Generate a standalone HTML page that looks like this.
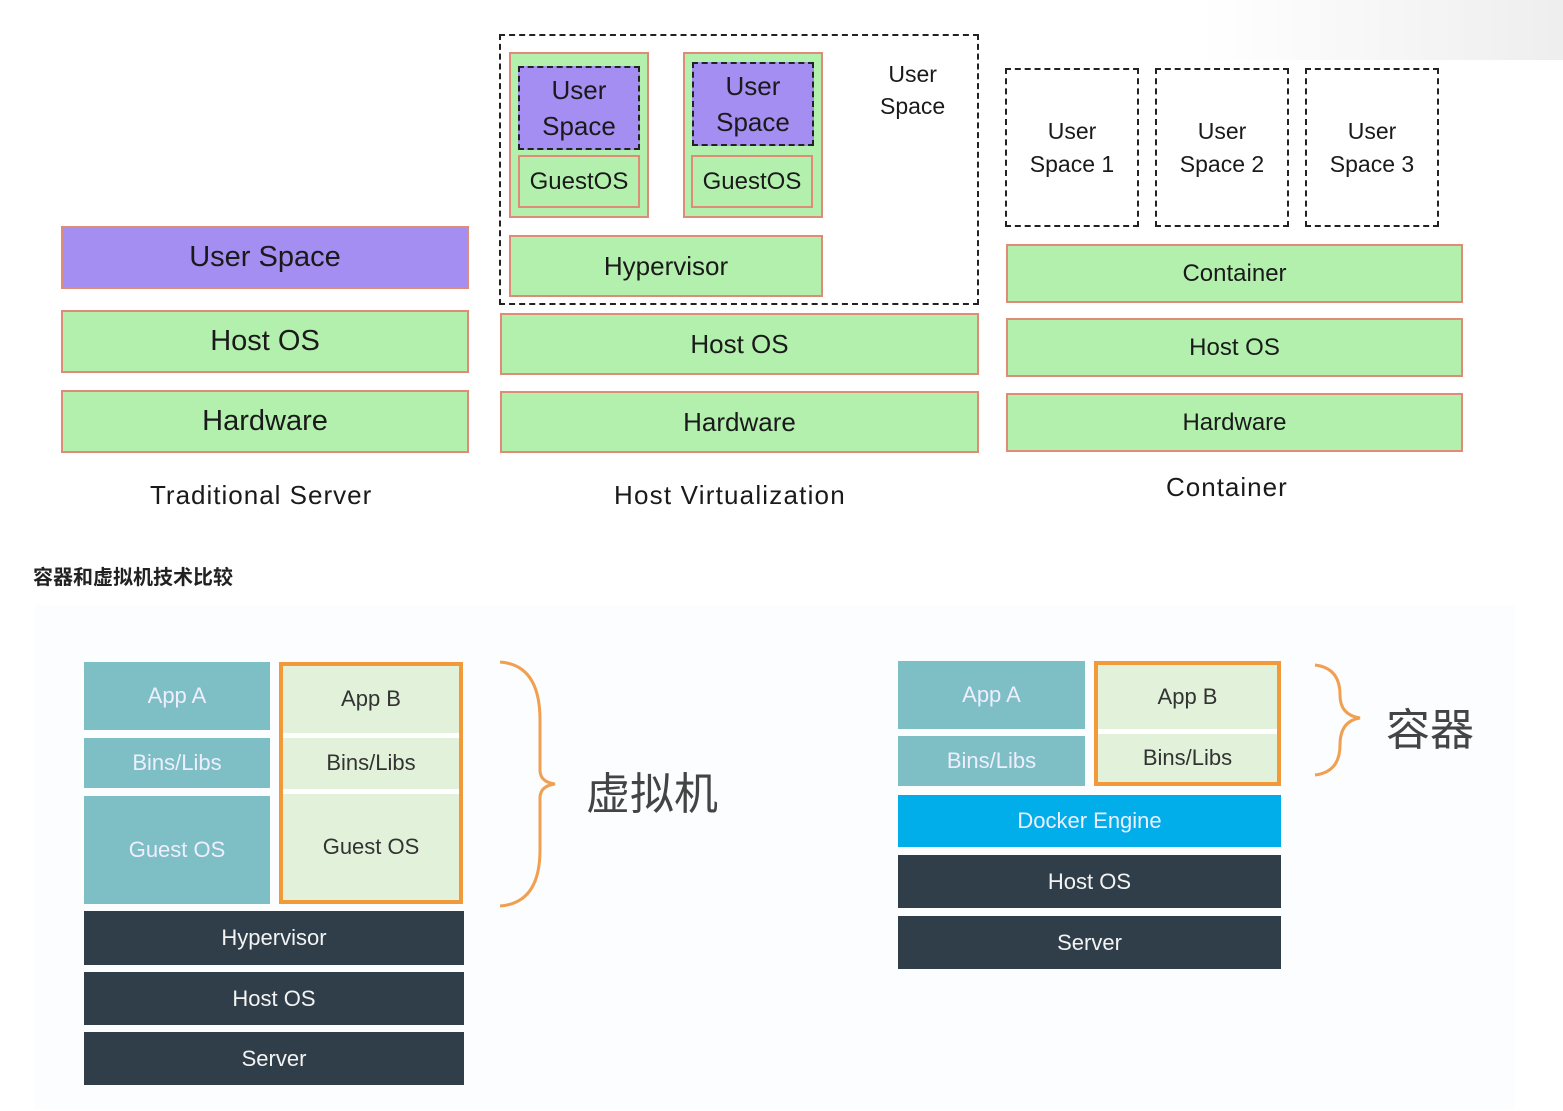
<!DOCTYPE html>
<html><head><meta charset="utf-8"><style>
body{margin:0;width:1563px;height:1111px;background:#fff;position:relative;overflow:hidden;font-family:"Liberation Sans","Noto Sans CJK SC",sans-serif}
.b{position:absolute;box-sizing:border-box;display:flex;align-items:center;justify-content:center;text-align:center;color:#1a1a1a}
.g{background:#b3f0ad;border:2px solid #e08a78}
.p{background:#a48ef2;border:2px dashed #222}
.d{border:2px dashed #222}
.t{position:absolute;color:#1a1a1a}
.teal{background:#7dbfc5;color:#eef;}
.lg{background:#e2f2da;color:#333}
.dk{background:#2f3e48;color:#f3f3f3}
.s{font-size:23px;line-height:1.4}
</style></head><body>
<div style="position:absolute;left:1200px;top:0;width:363px;height:60px;background:linear-gradient(to right,#fff,#eee)"></div>
<div style="position:absolute;left:35px;top:605px;width:1480px;height:505px;background:#fbfdfe"></div>

<div class="b p" style="left:61px;top:226px;width:408px;height:63px;border:2px solid #e08a78;font-size:29px">User Space</div>
<div class="b g" style="left:61px;top:310px;width:408px;height:63px;font-size:29px">Host OS</div>
<div class="b g" style="left:61px;top:390px;width:408px;height:63px;font-size:29px">Hardware</div>
<div class="t" style="left:150px;top:480px;font-size:26px;letter-spacing:1px">Traditional Server</div>

<div class="b d" style="left:499px;top:34px;width:480px;height:271px"></div>
<div class="b g" style="left:509px;top:52px;width:140px;height:166px"></div>
<div class="b p s" style="left:518px;top:66px;width:122px;height:84px;font-size:26px">User<br>Space</div>
<div class="b g" style="left:518px;top:155px;width:122px;height:53px;font-size:24px">GuestOS</div>
<div class="b g" style="left:683px;top:52px;width:140px;height:166px"></div>
<div class="b p s" style="left:692px;top:62px;width:122px;height:84px;font-size:26px">User<br>Space</div>
<div class="b g" style="left:691px;top:155px;width:122px;height:53px;font-size:24px">GuestOS</div>
<div class="t s" style="left:880px;top:58px;text-align:center">User<br>Space</div>
<div class="b g" style="left:509px;top:235px;width:314px;height:62px;font-size:26px">Hypervisor</div>
<div class="b g" style="left:500px;top:313px;width:479px;height:62px;font-size:26px">Host OS</div>
<div class="b g" style="left:500px;top:391px;width:479px;height:62px;font-size:26px">Hardware</div>
<div class="t" style="left:614px;top:480px;font-size:26px;letter-spacing:1.2px">Host Virtualization</div>

<div class="b d s" style="left:1005px;top:68px;width:134px;height:159px">User<br>Space 1</div>
<div class="b d s" style="left:1155px;top:68px;width:134px;height:159px">User<br>Space 2</div>
<div class="b d s" style="left:1305px;top:68px;width:134px;height:159px">User<br>Space 3</div>
<div class="b g" style="left:1006px;top:244px;width:457px;height:59px;font-size:24px">Container</div>
<div class="b g" style="left:1006px;top:318px;width:457px;height:59px;font-size:24px">Host OS</div>
<div class="b g" style="left:1006px;top:393px;width:457px;height:59px;font-size:24px">Hardware</div>
<div class="t" style="left:1166px;top:472px;font-size:26px;letter-spacing:1px">Container</div>

<div class="t" style="left:33px;top:561px;font-size:20px;font-weight:bold;color:#222">容器和虚拟机技术比较</div>

<div class="b teal" style="left:84px;top:662px;width:186px;height:68px;font-size:22px">App A</div>
<div class="b teal" style="left:84px;top:738px;width:186px;height:50px;font-size:22px">Bins/Libs</div>
<div class="b teal" style="left:84px;top:796px;width:186px;height:108px;font-size:22px">Guest OS</div>
<div class="b lg" style="left:279px;top:662px;width:184px;height:242px;border:4px solid #f29a3a"></div>
<div class="b lg" style="left:283px;top:666px;width:176px;height:66px;font-size:22px">App B</div>
<div style="position:absolute;left:283px;top:733px;width:176px;height:5px;background:#fff"></div>
<div class="b lg" style="left:283px;top:738px;width:176px;height:50px;font-size:22px">Bins/Libs</div>
<div style="position:absolute;left:283px;top:789px;width:176px;height:5px;background:#fff"></div>
<div class="b lg" style="left:283px;top:794px;width:176px;height:106px;font-size:22px">Guest OS</div>
<div class="b dk" style="left:84px;top:911px;width:380px;height:54px;font-size:22px">Hypervisor</div>
<div class="b dk" style="left:84px;top:972px;width:380px;height:53px;font-size:22px">Host OS</div>
<div class="b dk" style="left:84px;top:1032px;width:380px;height:53px;font-size:22px">Server</div>
<svg style="position:absolute;left:0;top:0" width="1563" height="1111"><path d="M500 662 Q540 665 540 720 L540 770 Q540 782 555 784 Q540 786 540 798 L540 850 Q540 903 500 906" fill="none" stroke="#f0a050" stroke-width="3"/>
<path d="M1315 665 Q1340 668 1340 695 Q1340 715 1360 718 Q1340 721 1340 745 Q1340 772 1315 775" fill="none" stroke="#f0a050" stroke-width="3"/></svg>
<div class="t" style="left:586px;top:758px;font-size:44px;color:#444">虚拟机</div>

<div class="b teal" style="left:898px;top:661px;width:187px;height:68px;font-size:22px">App A</div>
<div class="b teal" style="left:898px;top:736px;width:187px;height:50px;font-size:22px">Bins/Libs</div>
<div class="b lg" style="left:1094px;top:661px;width:187px;height:125px;border:4px solid #f29a3a"></div>
<div class="b lg" style="left:1098px;top:665px;width:179px;height:63px;font-size:22px">App B</div>
<div style="position:absolute;left:1098px;top:729px;width:179px;height:5px;background:#fff"></div>
<div class="b lg" style="left:1098px;top:734px;width:179px;height:48px;font-size:22px">Bins/Libs</div>
<div class="b" style="left:898px;top:795px;width:383px;height:52px;background:#02aee9;color:#eef;font-size:22px">Docker Engine</div>
<div class="b dk" style="left:898px;top:855px;width:383px;height:53px;font-size:22px">Host OS</div>
<div class="b dk" style="left:898px;top:916px;width:383px;height:53px;font-size:22px">Server</div>
<div class="t" style="left:1386px;top:694px;font-size:44px;color:#444">容器</div>
</body></html>
